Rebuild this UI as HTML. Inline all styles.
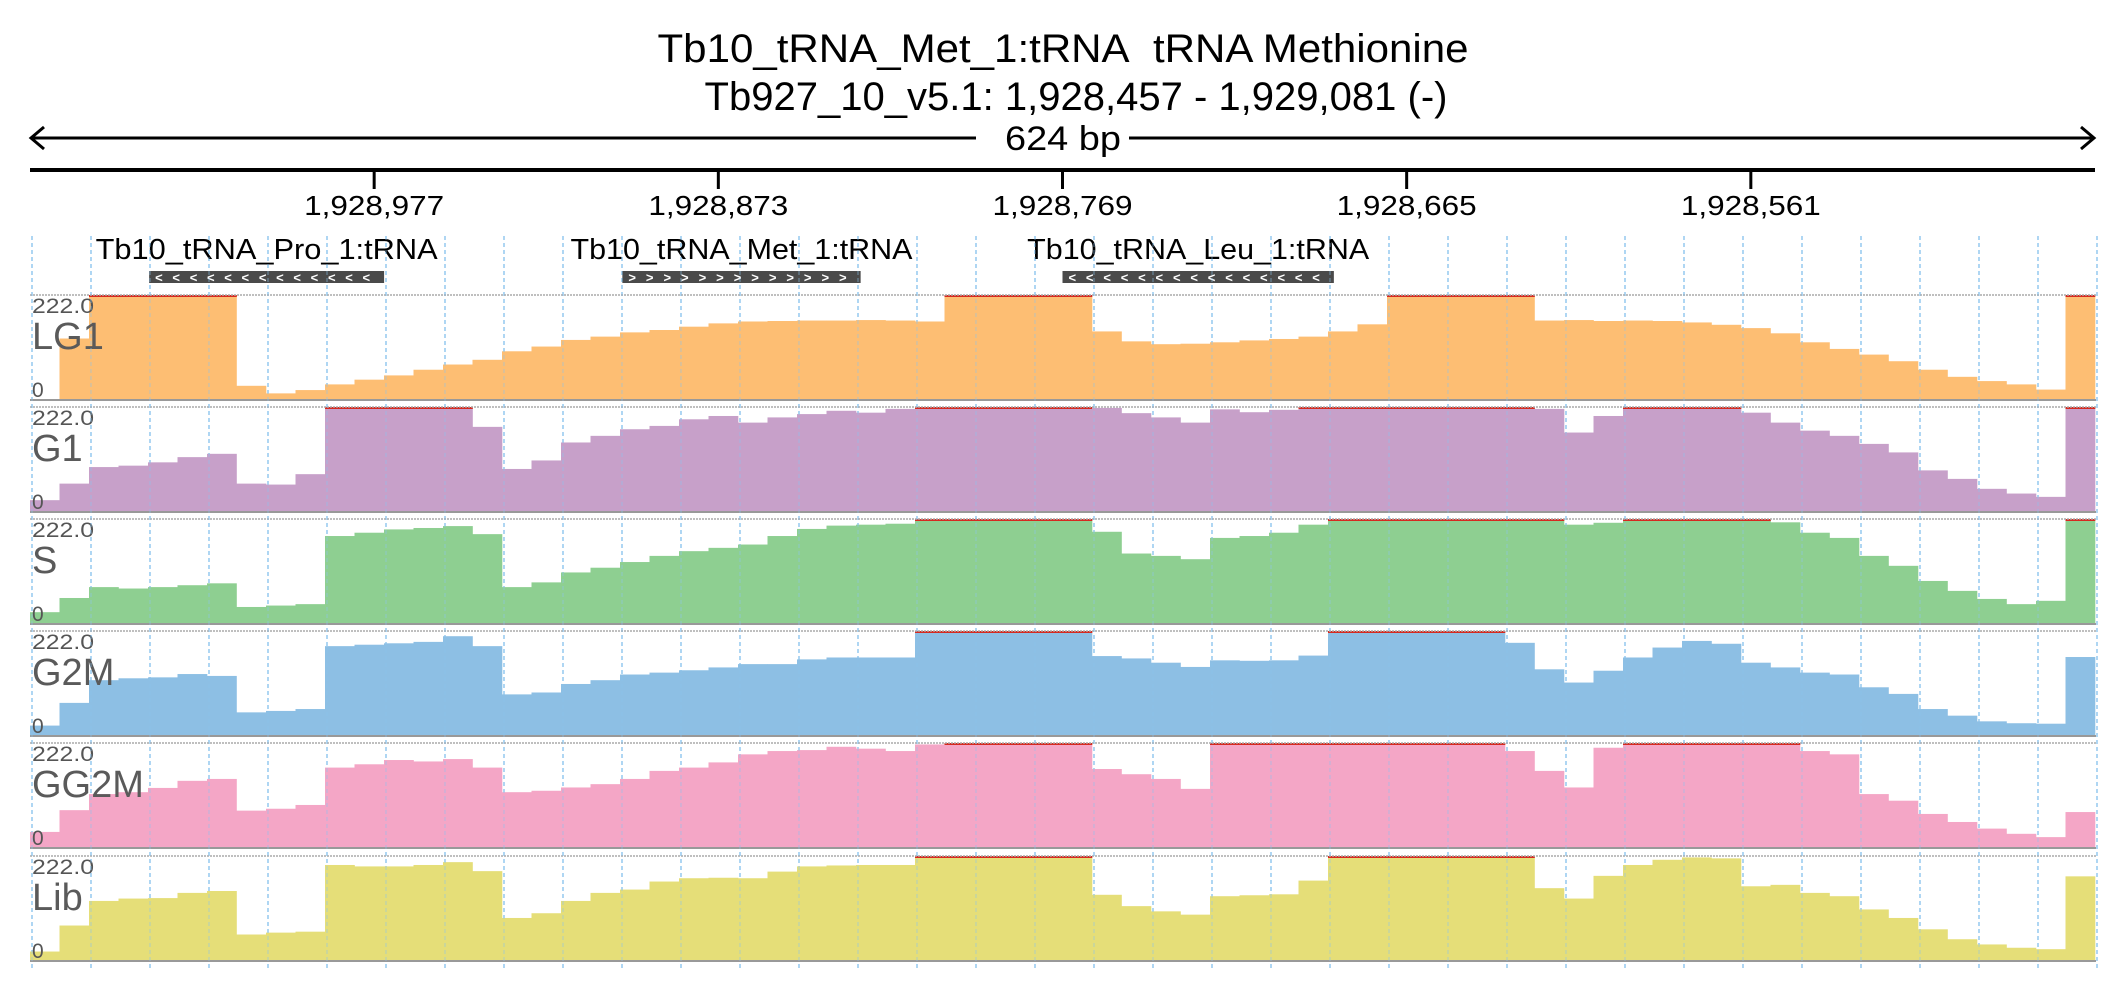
<!DOCTYPE html>
<html><head><meta charset="utf-8">
<style>
html,body{margin:0;padding:0;background:#fff;}
svg{display:block;font-family:"Liberation Sans",sans-serif;}
</style></head>
<body>
<svg id="chart" width="2126" height="1000" viewBox="0 0 2126 1000" xmlns="http://www.w3.org/2000/svg">
  <text x="1063" y="62" font-size="40" text-anchor="middle" textLength="811" lengthAdjust="spacingAndGlyphs" style="white-space:pre">Tb10_tRNA_Met_1:tRNA&#160; tRNA Methionine</text>
  <text x="1076" y="110" font-size="40" text-anchor="middle" textLength="743" lengthAdjust="spacingAndGlyphs">Tb927_10_v5.1: 1,928,457 - 1,929,081 (-)</text>
  <g stroke="#000" stroke-width="3" fill="none">
    <line x1="31" y1="138" x2="976" y2="138"/>
    <line x1="1129" y1="138" x2="2094" y2="138"/>
    <polyline points="44,127 31,138 44,149"/>
    <polyline points="2081,127 2094,138 2081,149"/>
  </g>
  <text x="1063" y="150" font-size="34" text-anchor="middle" textLength="116" lengthAdjust="spacingAndGlyphs">624 bp</text>
  <line x1="30" y1="170" x2="2095" y2="170" stroke="#000" stroke-width="4"/>
  <g id="ticks"></g>
  <g id="grid"></g>
  <g id="features"></g>
  <g id="tracks"></g>
  <g id="gridover"></g>
</svg>
<script>
const tickLabels = ["1,928,977","1,928,873","1,928,769","1,928,665","1,928,561"];
const tickOffsets = [104,208,312,416,520];
const featureNames = ["Tb10_tRNA_Pro_1:tRNA","Tb10_tRNA_Met_1:tRNA","Tb10_tRNA_Leu_1:tRNA"];
const featureStarts = [36, 179, 312];
const featureEnds = [107, 251, 394];
const featureStrands = ["-","+","-"];
const trackNames = ["LG1","G1","S","G2M","GG2M","Lib"];
const trackColors = ["#fdbe73","#c7a0c9","#8ecf91","#8dbfe4","#f4a6c6","#e5de78"];
const maxVal = 222;
const LG1 = [0,130,222,222,222,222,222,30,14,21,33,43,52,64,75,85,103,113,127,134,143,148,155,162,166,167,168,168,169,168,166,222,222,222,222,222,145,124,118,119,122,126,129,134,145,160,222,222,222,222,222,168,169,167,168,167,164,159,152,141,122,108,96,82,64,49,40,33,22,222];
const G1 = [25,60,95,98,105,116,123,60,58,80,222,222,222,222,222,180,91,109,147,161,175,182,196,203,189,200,207,214,210,218,222,222,222,222,222,222,220,209,200,189,217,211,216,222,222,222,222,222,222,222,222,218,168,203,222,222,222,222,210,189,172,161,144,126,88,70,49,39,32,222];
const S = [25,55,78,75,78,82,86,36,39,42,186,193,200,203,207,190,78,88,109,119,131,144,154,161,168,186,201,208,210,212,222,222,222,222,222,222,195,149,144,137,182,186,193,210,222,222,222,222,222,222,222,222,210,214,222,222,222,222,222,215,193,182,144,123,91,70,53,42,49,222];
const G2M = [22,70,118,122,124,131,127,50,53,57,190,193,196,199,211,190,88,92,110,118,130,134,139,145,152,152,162,166,166,166,222,222,222,222,222,222,169,164,155,146,160,159,160,170,222,222,222,222,222,222,197,141,113,138,166,187,201,195,155,145,134,130,103,89,57,43,31,27,26,167];
const GG2M = [34,80,114,118,127,142,146,79,83,91,170,177,186,183,188,170,118,121,128,135,146,163,170,181,198,205,207,214,210,205,219,222,222,222,222,222,167,156,146,125,222,222,222,222,222,222,222,222,222,222,205,163,128,212,222,222,222,222,222,222,205,198,114,100,72,55,41,30,23,76];
const Lib = [20,75,127,132,133,144,148,56,60,62,203,200,200,203,209,190,91,101,127,144,151,168,175,176,175,189,200,202,203,203,222,222,222,222,222,222,140,116,105,98,137,139,141,170,222,222,222,222,222,222,222,154,132,180,203,214,219,217,158,161,144,137,109,91,67,46,35,28,25,179];
const series = [LG1,G1,S,G2M,GG2M,Lib];

const NS = "http://www.w3.org/2000/svg";
const X0 = 30, X1 = 2095, SPAN = 624;
function xBp(o){ return X0 + o*(X1-X0)/SPAN; }
function xBin(i,n){ return X0 + i*(X1-X0)/n; }
function mk(tag, attrs, parent){ const e=document.createElementNS(NS,tag); for(const k in attrs) e.setAttribute(k,attrs[k]); parent.appendChild(e); return e; }

const tg = document.getElementById('ticks');
tickOffsets.forEach((o,i)=>{
  const x = xBp(o);
  const ln = mk('line',{x1:x,y1:170,x2:x,y2:189,stroke:'#000','stroke-width':3},tg);
  
  
  const t = mk('text',{x:x,y:215,'font-size':28,'text-anchor':'middle',textLength:140,lengthAdjust:'spacingAndGlyphs'},tg);
  t.textContent = tickLabels[i];
  
  
});

function drawGrid(g, op){
  for(let k=0;k<=35;k++){
    const x = 32 + k*59;
    const ln = mk('line',{x1:x,y1:236,x2:x,y2:968,stroke:'#8cc4ee','stroke-width':1.3,'stroke-dasharray':'4,3',opacity:op},g);
    
    
  }
}
drawGrid(document.getElementById('grid'),1);

const fg = document.getElementById('features');
featureNames.forEach((nm,i)=>{
  const xa = xBp(featureStarts[i]), xb = xBp(featureEnds[i]);
  const cx = (xa+xb)/2;
  const t = mk('text',{x:cx,y:259,'font-size':29,'text-anchor':'middle',textLength:342,lengthAdjust:'spacingAndGlyphs'},fg);
  t.textContent = nm;
  
  
  const r = mk('rect',{x:xa,y:271,width:xb-xa,height:12,fill:'#4a4a4a'},fg);
  
  
  const n = Math.round((xb-xa)/18);
  const ch = featureStrands[i]==='-' ? '<' : '>';
  const c = mk('text',{x:xa+6,y:282,'font-size':13,'font-weight':'bold',fill:'#fff',textLength:(xb-xa-20),lengthAdjust:'spacing'},fg);
  c.textContent = ch.repeat(n);
  
  
});

const tr = document.getElementById('tracks');
const tops = [295,407,519,631,743,856];
const H = 105;
series.forEach((vals,ti)=>{
  const g = mk('g',{},tr);
  
  
  const top = tops[ti], base = top+H;
  const n = vals.length;
  vals.forEach((v,i)=>{
    const xa = xBin(i,n), xb = xBin(i+1,n);
    const h = Math.min(v,maxVal)/maxVal*H;
    const b = mk('rect',{x:xa,y:base-h,width:xb-xa+0.3,height:h,fill:trackColors[ti]},g);
    
    
    if(v>=maxVal){
      const rl = mk('rect',{x:xa,y:top,width:xb-xa+0.3,height:2,fill:'#d62a20'},g);
      
      
    }
  });
  const tl = mk('line',{x1:30,y1:top,x2:2096,y2:top,stroke:'#aaa','stroke-width':1.5,'stroke-dasharray':'2,1'},g);
  
  
  const bl = mk('line',{x1:30,y1:base,x2:2096,y2:base,stroke:'#999','stroke-width':2},g);
  
  
  const mx = mk('text',{x:32,y:top+18,'font-size':21,fill:'#555',textLength:62,lengthAdjust:'spacingAndGlyphs'},g);
  mx.textContent = maxVal.toFixed(1);
  
  
  const nm = mk('text',{x:32,y:top+54,'font-size':38,fill:'#5a5a5a'},g);
  nm.textContent = trackNames[ti];
  
  
  const z = mk('text',{x:32,y:base-3,'font-size':21,fill:'#555'},g);
  z.textContent = '0';
  
  
});
drawGrid(document.getElementById('gridover'),0.45);
</script>
</body></html>
